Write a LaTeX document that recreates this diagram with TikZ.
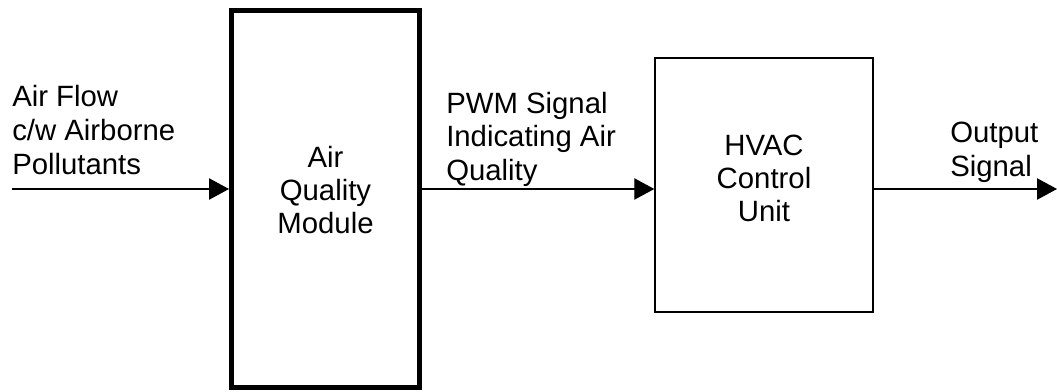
\documentclass[tikz,border=0pt]{standalone}
\usepackage{fontspec}
\setmainfont{Liberation Sans}
\usetikzlibrary{arrows.meta, positioning}

\tikzset{
    block/.style={draw, inner sep=0pt, align=center, font=\fontsize{22}{24.75}\selectfont},
    flow/.style={-{Triangle[length=15pt, width=16pt]}, line width=1pt},
    lbl/.style={align=left, anchor=base west, inner sep=0pt, font=\fontsize{22}{25.5}\selectfont}
}

\begin{document}
\begin{tikzpicture}[x=0.75pt, y=-0.75pt]
			\useasboundingbox (0,0) rectangle (1057,392);

			% Blocks
			\node[block, line width=3.75pt, minimum width=141pt, minimum height=282.75pt, text depth=13pt] (aqm) at (325.5,199) {Air\\Quality\\Module};
			\node[block, line width=1.1pt, minimum width=163.5pt, minimum height=190.5pt, text depth=9.5pt] (hvac) at (764,185) {HVAC\\Control\\Unit};

			% Signal line
			\coordinate (in) at (12,189);
			\coordinate (out) at (1057,189);
			\draw[flow] (in) -- (in -| aqm.west);
			\draw[flow] (in -| aqm.east) -- (in -| hvac.west);
			\draw[flow] (in -| hvac.east) -- (out);

			% Labels (anchored on the last line)
			\node[lbl] (air) at (12,175) {Air Flow\\c/w Airborne\\Pollutants};
			\node[lbl] (pwm) at (446,181) {PWM Signal\\Indicating Air\\Quality};
			\node[lbl] (sig) at (950,177) {Output\\Signal};
		\end{tikzpicture}
\end{document}
